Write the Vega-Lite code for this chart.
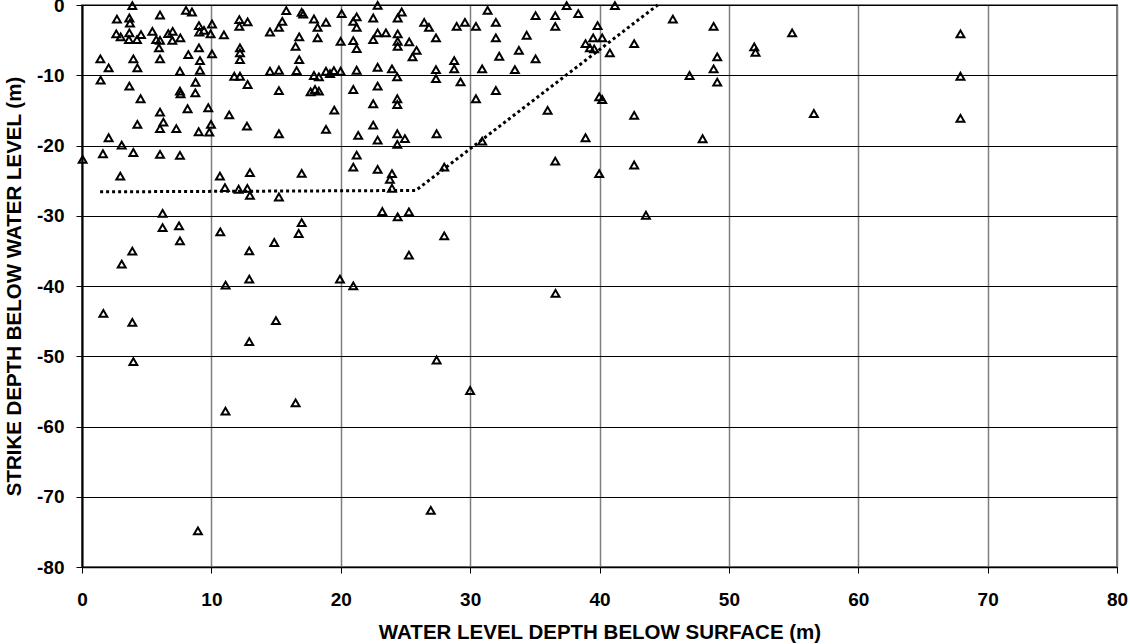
{
  "$schema": "https://vega.github.io/schema/vega-lite/v6.json",
  "width": 1035,
  "height": 562,
  "autosize": "none",
  "padding": {"left": 82, "top": 5, "right": 13, "bottom": 77},
  "background": "white",
  "config": {
    "font": "Liberation Sans",
    "view": {"stroke": "#808080", "strokeWidth": 2},
    "axis": {
      "labelFont": "Liberation Sans",
      "labelFontWeight": "bold",
      "labelFontSize": 19,
      "labelColor": "#000000",
      "titleFont": "Liberation Sans",
      "titleFontWeight": "bold",
      "titleFontSize": 20.5,
      "titleColor": "#000000",
      "domainColor": "#000000",
      "tickColor": "#000000",
      "tickSize": 6,
      "tickWidth": 1
    }
  },
  "datasets": {
    "pts": [
      {"x": 3.89, "y": -0.1}, {"x": 2.70, "y": -2.0}, {"x": 3.66, "y": -1.85}, {"x": 3.71, "y": -2.56}, {"x": 6.03, "y": -1.42}, {"x": 8.04, "y": -0.77}, {"x": 8.50, "y": -1.0}, {"x": 2.65, "y": -4.12}, {"x": 2.99, "y": -4.55}, {"x": 3.66, "y": -3.98},
      {"x": 3.63, "y": -4.93}, {"x": 4.25, "y": -4.93}, {"x": 4.56, "y": -4.22}, {"x": 5.44, "y": -3.75}, {"x": 5.74, "y": -4.93}, {"x": 6.03, "y": -5.03}, {"x": 6.67, "y": -4.08}, {"x": 7.01, "y": -3.75}, {"x": 6.98, "y": -5.03}, {"x": 7.60, "y": -4.69},
      {"x": 5.95, "y": -6.11}, {"x": 6.03, "y": -7.67}, {"x": 1.42, "y": -7.67}, {"x": 2.06, "y": -8.95}, {"x": 3.97, "y": -7.67}, {"x": 4.28, "y": -8.95}, {"x": 1.44, "y": -10.7}, {"x": 3.66, "y": -11.56}, {"x": 4.53, "y": -13.35}, {"x": 7.57, "y": -9.43},
      {"x": 9.04, "y": -2.94}, {"x": 9.07, "y": -3.84}, {"x": 9.04, "y": -6.11}, {"x": 8.22, "y": -7.06}, {"x": 9.12, "y": -7.91}, {"x": 9.12, "y": -9.29}, {"x": 10.05, "y": -2.70}, {"x": 9.43, "y": -3.61}, {"x": 9.94, "y": -4.12}, {"x": 10.97, "y": -4.26},
      {"x": 10.05, "y": -6.96}, {"x": 8.78, "y": -11.0}, {"x": 7.57, "y": -12.27}, {"x": 7.62, "y": -12.64}, {"x": 8.76, "y": -12.5}, {"x": 8.16, "y": -14.77}, {"x": 9.76, "y": -14.63}, {"x": 6.03, "y": -15.26}, {"x": 6.29, "y": -16.68}, {"x": 6.03, "y": -17.61},
      {"x": 4.28, "y": -17.0}, {"x": 7.29, "y": -17.61}, {"x": 2.06, "y": -18.9}, {"x": 3.07, "y": -19.94}, {"x": 1.62, "y": -21.17}, {"x": 3.97, "y": -21.0}, {"x": 6.03, "y": -21.26}, {"x": 7.57, "y": -21.4}, {"x": 0.05, "y": -21.97}, {"x": 2.96, "y": -24.35},
      {"x": 9.02, "y": -18.04}, {"x": 9.84, "y": -18.1}, {"x": 9.97, "y": -17.0}, {"x": 11.38, "y": -15.63}, {"x": 12.75, "y": -17.24}, {"x": 12.16, "y": -2.09}, {"x": 12.8, "y": -2.41}, {"x": 12.16, "y": -3.04}, {"x": 12.21, "y": -6.11}, {"x": 12.21, "y": -6.82},
      {"x": 12.21, "y": -7.77}, {"x": 11.77, "y": -10.14}, {"x": 12.21, "y": -10.14}, {"x": 12.8, "y": -11.32}, {"x": 10.66, "y": -24.35}, {"x": 11.05, "y": -26.0}, {"x": 12.11, "y": -26.23}, {"x": 12.78, "y": -26.1}, {"x": 12.98, "y": -23.86}, {"x": 12.98, "y": -27.1},
      {"x": 15.79, "y": -0.81}, {"x": 16.98, "y": -1.05}, {"x": 17.1, "y": -1.3}, {"x": 20.07, "y": -1.24}, {"x": 22.85, "y": -0.05}, {"x": 24.71, "y": -1.0}, {"x": 24.40, "y": -1.85}, {"x": 21.23, "y": -1.7}, {"x": 22.51, "y": -1.85}, {"x": 20.97, "y": -2.33},
      {"x": 21.23, "y": -3.18}, {"x": 17.93, "y": -1.99}, {"x": 18.86, "y": -2.47}, {"x": 18.21, "y": -3.18}, {"x": 15.48, "y": -2.33}, {"x": 15.22, "y": -3.18}, {"x": 14.53, "y": -3.84}, {"x": 16.79, "y": -4.55}, {"x": 16.51, "y": -5.88}, {"x": 18.21, "y": -4.69},
      {"x": 19.99, "y": -5.17}, {"x": 20.97, "y": -5.07}, {"x": 21.23, "y": -6.21}, {"x": 16.79, "y": -7.77}, {"x": 22.85, "y": -3.98}, {"x": 23.49, "y": -3.98}, {"x": 22.51, "y": -4.93}, {"x": 24.40, "y": -4.12}, {"x": 24.40, "y": -5.17}, {"x": 24.40, "y": -5.88},
      {"x": 25.29, "y": -5.26}, {"x": 25.86, "y": -6.45}, {"x": 25.55, "y": -7.39}, {"x": 27.36, "y": -4.69}, {"x": 26.45, "y": -2.47}, {"x": 26.82, "y": -3.18}, {"x": 14.53, "y": -9.43}, {"x": 15.22, "y": -9.29}, {"x": 16.59, "y": -9.33}, {"x": 17.93, "y": -10.04},
      {"x": 18.31, "y": -10.23}, {"x": 18.86, "y": -9.43}, {"x": 19.17, "y": -9.76}, {"x": 19.47, "y": -9.33}, {"x": 19.99, "y": -9.43}, {"x": 21.23, "y": -9.29}, {"x": 22.85, "y": -8.86}, {"x": 23.96, "y": -9.09}, {"x": 24.36, "y": -10.23}, {"x": 27.36, "y": -9.19},
      {"x": 27.36, "y": -10.47}, {"x": 15.22, "y": -12.19}, {"x": 17.67, "y": -12.36}, {"x": 18.01, "y": -12.03}, {"x": 18.31, "y": -12.27}, {"x": 20.97, "y": -12.03}, {"x": 22.85, "y": -11.56}, {"x": 19.5, "y": -14.97}, {"x": 22.51, "y": -14.06}, {"x": 24.37, "y": -13.35},
      {"x": 24.37, "y": -14.16}, {"x": 15.22, "y": -18.33}, {"x": 18.86, "y": -17.71}, {"x": 22.51, "y": -17.1}, {"x": 21.35, "y": -18.57}, {"x": 22.85, "y": -19.23}, {"x": 24.37, "y": -18.33}, {"x": 24.96, "y": -19.03}, {"x": 24.37, "y": -19.84}, {"x": 21.23, "y": -21.36},
      {"x": 20.97, "y": -23.07}, {"x": 22.85, "y": -23.39}, {"x": 23.96, "y": -24.0}, {"x": 23.80, "y": -24.81}, {"x": 23.96, "y": -26.09}, {"x": 16.98, "y": -23.96}, {"x": 15.22, "y": -27.33}, {"x": 27.41, "y": -18.33},
      {"x": 31.35, "y": -0.77}, {"x": 37.46, "y": -0.1}, {"x": 41.19, "y": -0.1}, {"x": 35.06, "y": -1.52}, {"x": 36.58, "y": -1.52}, {"x": 38.36, "y": -1.24}, {"x": 36.58, "y": -3.04}, {"x": 39.85, "y": -2.94}, {"x": 28.96, "y": -3.04}, {"x": 29.6, "y": -2.47},
      {"x": 30.45, "y": -3.04}, {"x": 31.99, "y": -2.47}, {"x": 31.99, "y": -4.69}, {"x": 34.37, "y": -4.31}, {"x": 33.77, "y": -6.45}, {"x": 32.25, "y": -7.3}, {"x": 35.06, "y": -7.67}, {"x": 28.77, "y": -7.91}, {"x": 28.77, "y": -9.09}, {"x": 29.26, "y": -10.95},
      {"x": 30.93, "y": -9.09}, {"x": 33.46, "y": -9.19}, {"x": 38.92, "y": -5.5}, {"x": 39.51, "y": -4.69}, {"x": 40.21, "y": -4.69}, {"x": 39.26, "y": -6.11}, {"x": 39.59, "y": -6.25}, {"x": 40.8, "y": -6.82}, {"x": 42.68, "y": -5.5}, {"x": 31.99, "y": -12.17},
      {"x": 30.45, "y": -13.35}, {"x": 35.99, "y": -15.01}, {"x": 39.98, "y": -13.07}, {"x": 40.21, "y": -13.45}, {"x": 42.68, "y": -15.72}, {"x": 30.93, "y": -19.37}, {"x": 38.92, "y": -18.9}, {"x": 28.0, "y": -23.07}, {"x": 36.58, "y": -22.22}, {"x": 39.98, "y": -24.0},
      {"x": 42.68, "y": -22.78},
      {"x": 6.23, "y": -29.65}, {"x": 6.23, "y": -31.68}, {"x": 7.5, "y": -31.45}, {"x": 7.57, "y": -33.58}, {"x": 3.89, "y": -35.04}, {"x": 3.07, "y": -36.89}, {"x": 1.65, "y": -43.89}, {"x": 3.89, "y": -45.17}, {"x": 3.97, "y": -50.77}, {"x": 10.69, "y": -32.3},
      {"x": 11.1, "y": -39.87}, {"x": 12.93, "y": -35.0}, {"x": 12.93, "y": -39.02}, {"x": 14.86, "y": -33.81}, {"x": 14.99, "y": -44.94}, {"x": 12.93, "y": -47.92}, {"x": 16.75, "y": -32.53}, {"x": 16.98, "y": -30.97}, {"x": 19.94, "y": -39.02}, {"x": 20.97, "y": -39.97},
      {"x": 23.21, "y": -29.4}, {"x": 24.4, "y": -30.17}, {"x": 25.27, "y": -29.46}, {"x": 28.0, "y": -32.87}, {"x": 25.27, "y": -35.61}, {"x": 36.6, "y": -41.05}, {"x": 27.41, "y": -50.53},
      {"x": 11.09, "y": -57.81}, {"x": 16.51, "y": -56.63}, {"x": 30.0, "y": -54.88}, {"x": 8.96, "y": -74.86}, {"x": 26.96, "y": -71.93},
      {"x": 45.67, "y": -2.0}, {"x": 48.82, "y": -3.04}, {"x": 49.1, "y": -7.39}, {"x": 48.82, "y": -9.09}, {"x": 46.96, "y": -10.04}, {"x": 49.1, "y": -10.99}, {"x": 47.97, "y": -19.04}, {"x": 54.89, "y": -3.98}, {"x": 51.96, "y": -5.97}, {"x": 52.06, "y": -6.73},
      {"x": 56.57, "y": -15.44}, {"x": 67.9, "y": -4.12}, {"x": 67.9, "y": -10.14}, {"x": 67.9, "y": -16.15}, {"x": 43.59, "y": -29.93}
    ],
    "trend": [
      {"x": 1.4, "y": -26.6},
      {"x": 25.8, "y": -26.4},
      {"x": 44.5, "y": 0}
    ]
  },
  "layer": [
    {
      "data": {"name": "trend"},
      "mark": {"type": "line", "color": "#000000", "strokeWidth": 3, "strokeDash": [3, 3], "strokeCap": "butt"},
      "encoding": {
        "x": {"field": "x", "type": "quantitative"},
        "y": {"field": "y", "type": "quantitative"}
      }
    },
    {
      "data": {"name": "pts"},
      "mark": {"type": "point", "shape": "triangle-up", "filled": false, "stroke": "#000000", "strokeWidth": 2, "size": 62, "opacity": 1},
      "encoding": {
        "x": {
          "field": "x", "type": "quantitative",
          "scale": {"domain": [0, 80], "nice": false, "zero": false},
          "axis": {
            "title": "WATER LEVEL DEPTH BELOW SURFACE (m)",
            "values": [0, 10, 20, 30, 40, 50, 60, 70, 80],
            "labelExpr": "'' + datum.value",
            "grid": true, "gridColor": "#7f7f7f", "gridWidth": 1.5,
            "domainWidth": 1.5,
            "labelPadding": 17, "titlePadding": 13,
            "labelFlush": false
          }
        },
        "y": {
          "field": "y", "type": "quantitative",
          "scale": {"domain": [-80, 0], "nice": false, "zero": false},
          "axis": {
            "title": "STRIKE DEPTH BELOW WATER LEVEL (m)",
            "values": [-80, -70, -60, -50, -40, -30, -20, -10, 0],
            "labelExpr": "'' + datum.value",
            "grid": true, "gridColor": "#000000", "gridWidth": 1,
            "domainWidth": 2,
            "labelPadding": 12, "titlePadding": 12,
            "labelFlush": false
          }
        }
      }
    }
  ]
}
